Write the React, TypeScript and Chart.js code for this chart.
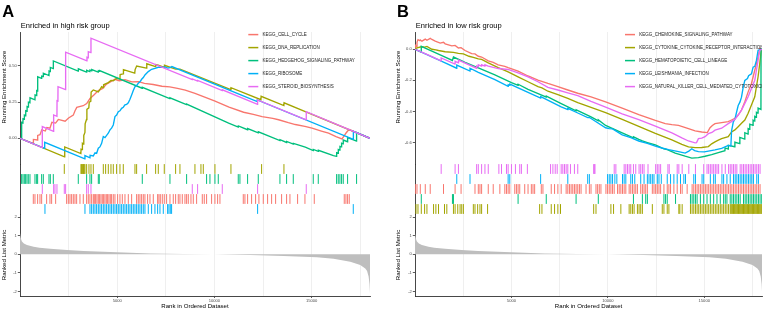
import React, { useEffect, useRef } from 'react';
import { Chart, registerables } from 'chart.js';

Chart.register(...registerables);

const FONT = '"Liberation Sans", Arial, Helvetica, sans-serif';
const COLORS = ['#F8766D', '#A3A500', '#00BF7D', '#00B0F6', '#E76BF3'];

// ---------- shared axis data ----------
const RANK_MAX = 18000;
const X_GRID_TICKS = [2500, 5000, 7500, 10000, 12500, 15000, 17500];
const X_LABELED_TICKS = [5000, 10000, 15000];
const METRIC_TICKS = [-2, -1, 0, 1, 2];

// ranked list metric (shared ranked gene list)
const METRIC_RANKS = [0, 20, 60, 100, 200, 358, 700, 1000, 1558, 2415, 3272, 4986, 6700, 8414, 9957, 11842, 13557, 15270, 16127, 16984, 17499, 17756, 17850, 17928, 17975, 18000];
const METRIC_VALUES = [1.15, 1.0, 0.8, 0.69, 0.58, 0.5, 0.41, 0.36, 0.3, 0.23, 0.18, 0.11, 0.05, 0.02, 0, -0.04, -0.09, -0.16, -0.24, -0.4, -0.58, -0.76, -0.9, -1.2, -1.6, -2.1];

// ---------- panel A : enriched in high risk group ----------
const A_SETS = ['KEGG_CELL_CYCLE', 'KEGG_DNA_REPLICATION', 'KEGG_HEDGEHOG_SIGNALING_PATHWAY', 'KEGG_RIBOSOME', 'KEGG_STEROID_BIOSYNTHESIS'];
const A_ES_TICKS = [0, 0.25, 0.5];
const A_ES_TICK_LABELS = ['0.00', '0.25', '0.50'];

const A_ES_CELL_CYCLE = [[0,0],[680,-0.036],[690,-0.008],[900,-0.012],[910,0.02],[1030,0.025],[1120,0.058],[1300,0.05],[1380,0.075],[1540,0.07],[1640,0.11],[1830,0.105],[1970,0.13],[2320,0.118],[2500,0.14],[2740,0.16],[2830,0.19],[2920,0.214],[3250,0.225],[3430,0.24],[3600,0.275],[3800,0.3],[4030,0.33],[4250,0.345],[4450,0.375],[4650,0.39],[4880,0.408],[5100,0.398],[5400,0.405],[5750,0.39],[6100,0.392],[6400,0.38],[6850,0.372],[7300,0.36],[7700,0.356],[8100,0.345],[8500,0.333],[9000,0.31],[9500,0.285],[10000,0.258],[10750,0.215],[11500,0.18],[12000,0.165],[12450,0.15],[13000,0.138],[13300,0.128],[13800,0.108],[14160,0.095],[14650,0.082],[15020,0.07],[15500,0.05],[15870,0.035],[16250,0.012],[16560,-0.005],[16680,0.018],[16760,0.035],[16850,0.05],[16930,0.06],[18000,0]];
const A_ES_DNA_REPLICATION = [[0,0],[2290,-0.128],[2300,-0.06],[3130,-0.106],[3140,-0.075],[3200,-0.078],[3210,-0.035],[3270,-0.04],[3280,0.02],[3340,0.04],[3350,0.1],[3420,0.13],[3440,0.2],[3540,0.21],[3560,0.25],[3640,0.255],[3660,0.32],[3770,0.334],[4030,0.32],[4200,0.357],[4280,0.35],[4300,0.37],[4540,0.385],[4680,0.4],[4800,0.398],[4970,0.415],[5140,0.41],[5150,0.44],[5300,0.445],[5320,0.475],[5900,0.45],[5920,0.475],[6000,0.5],[6500,0.485],[6520,0.515],[6970,0.495],[6980,0.51],[7110,0.505],[7420,0.49],[7430,0.505],[8000,0.478],[8230,0.478],[10840,0.336],[10850,0.35],[12390,0.267],[12400,0.29],[13570,0.226],[13580,0.245],[14672,0.184],[18000,0]];
const A_ES_HEDGEHOG = [[0,0],[80,-0.004],[85,0.11],[150,0.106],[155,0.135],[220,0.131],[225,0.16],[290,0.156],[295,0.19],[360,0.186],[365,0.22],[430,0.216],[435,0.25],[510,0.246],[515,0.28],[770,0.266],[775,0.3],[855,0.296],[860,0.33],[905,0.327],[910,0.425],[1110,0.414],[1115,0.43],[1195,0.426],[1200,0.45],[1490,0.434],[1495,0.465],[1555,0.462],[1560,0.49],[1710,0.482],[1715,0.535],[2990,0.465],[3000,0.48],[3420,0.457],[3430,0.47],[3590,0.461],[3600,0.472],[3680,0.467],[3690,0.475],[4020,0.457],[4030,0.466],[4080,0.463],[4090,0.468],[6280,0.346],[6290,0.352],[7700,0.274],[7712,0.28],[8560,0.233],[8569,0.236],[10730,0.104],[11225,0.077],[11230,0.085],[11700,0.059],[11710,0.067],[12254,0.037],[12260,0.045],[13368,-0.016],[13372,-0.01],[13711,-0.029],[13715,-0.022],[14054,-0.041],[14060,-0.035],[14672,-0.062],[15082,-0.085],[15086,-0.077],[15340,-0.091],[15345,-0.083],[16120,-0.12],[16280,-0.125],[16285,-0.1],[16365,-0.104],[16370,-0.078],[16450,-0.082],[16455,-0.056],[16535,-0.06],[16540,-0.034],[16620,-0.038],[16625,-0.012],[16845,-0.024],[16850,0.005],[17305,-0.02],[17310,0.039],[18000,0]];
const A_ES_RIBOSOME = [[0,0],[1265,-0.07],[1270,-0.028],[3335,-0.142],[3340,-0.12],[3598,-0.135],[3605,-0.118],[3770,-0.122],[3860,-0.1],[3941,-0.104],[4027,-0.069],[4110,-0.06],[4198,-0.035],[4284,0.012],[4370,0.005],[4455,0.02],[4540,0.035],[4627,0.058],[4710,0.07],[4798,0.092],[4884,0.15],[4970,0.16],[5055,0.184],[5141,0.19],[5227,0.207],[5312,0.215],[5398,0.231],[5484,0.235],[5570,0.245],[5655,0.27],[5741,0.3],[5826,0.33],[5912,0.357],[6000,0.365],[6083,0.38],[6170,0.39],[6255,0.408],[6341,0.42],[6426,0.438],[6598,0.461],[6769,0.477],[6940,0.484],[7112,0.491],[7280,0.49],[7455,0.494],[7600,0.485],[7712,0.488],[7810,0.496],[12200,0.254],[12205,0.265],[17140,-0.007],[17145,0.048],[18000,0]];
const A_ES_STEROID = [[0,0],[1140,-0.064],[1147,0.081],[1725,0.048],[1730,0.161],[1900,0.152],[1905,0.26],[1950,0.258],[1955,0.357],[2340,0.336],[2347,0.595],[3440,0.535],[3445,0.56],[3505,0.557],[3512,0.599],[3645,0.592],[3650,0.692],[8860,0.406],[8865,0.41],[9134,0.395],[9138,0.4],[10403,0.33],[10408,0.335],[12215,0.235],[12220,0.265],[14717,0.128],[14722,0.184],[18000,0]];

const A_HITS_CELL_CYCLE = [684,770,907,1027,1113,1370,1541,1627,1833,2398,2484,2570,2655,2741,2827,2913,3084,3255,3427,3512,3598,3684,3770,3821,3890,3958,4027,4095,4164,4232,4301,4369,4438,4507,4575,4644,4712,4798,4884,5021,5141,5261,5398,5570,5741,5998,6083,6169,6255,6341,6426,6563,6684,6855,7078,7146,7215,7318,7420,7540,7712,7883,8003,8140,8226,8346,8483,8569,8655,8792,8912,9083,9375,9477,9597,9854,10026,10163,10283,11483,11568,11705,11911,12117,12288,12511,12734,12940,13146,13454,13711,13883,14277,14654,15134,16676,16762,16848,16933];
const A_HITS_DNA_REPLICATION = [2278,3135,3170,3204,3240,3272,3300,3341,3427,3547,3650,3770,4284,4404,4541,4678,4798,4969,5141,5312,5912,5998,6512,6975,7112,7420,8003,8226,8997,9306,9426,10026,10849,12425,13574];
const A_HITS_HEDGEHOG = [84,153,222,290,359,427,513,770,856,907,1113,1199,1490,1559,1713,2998,3427,3598,3684,4027,4078,6289,7712,8569,9597,9769,10026,10197,11225,11311,11705,12254,13368,13711,14054,15082,15340,16282,16367,16453,16539,16625,16848,17310];
const A_HITS_RIBOSOME = [1284,3341,3598,3684,3770,3855,3941,4027,4112,4198,4284,4369,4455,4541,4627,4712,4798,4884,4969,5055,5141,5227,5312,5398,5484,5570,5655,5741,5826,5912,5998,6083,6169,6255,6341,6426,6598,6769,6940,7078,7198,7369,7592,7660,7729,7797,12220,17140];
const A_HITS_STEROID = [1147,1730,1798,1901,2278,2347,3427,3512,3650,8860,9134,10403,12220,14722];

// ---------- panel B : enriched in low risk group ----------
const B_SETS = ['KEGG_CHEMOKINE_SIGNALING_PATHWAY', 'KEGG_CYTOKINE_CYTOKINE_RECEPTOR_INTERACTION', 'KEGG_HEMATOPOIETIC_CELL_LINEAGE', 'KEGG_LEISHMANIA_INFECTION', 'KEGG_NATURAL_KILLER_CELL_MEDIATED_CYTOTOXICITY'];
const B_ES_TICKS = [-0.6, -0.4, -0.2, 0];
const B_ES_TICK_LABELS = ['-0.6', '-0.4', '-0.2', '0.0'];

const B_ES_CHEMOKINE = [[0,0],[17,0.025],[60,0.018],[103,0.045],[154,0.062],[250,0.055],[275,0.06],[361,0.052],[533,0.065],[620,0.058],[790,0.07],[876,0.063],[1048,0.052],[1306,0.04],[1478,0.045],[1564,0.035],[1908,0.022],[2080,0.025],[2252,0.008],[2389,0.01],[2595,-0.008],[2939,-0.028],[3111,-0.03],[3283,-0.045],[3455,-0.05],[3799,-0.075],[4057,-0.085],[4314,-0.1],[4658,-0.11],[4830,-0.118],[5346,-0.14],[5862,-0.172],[6377,-0.198],[6893,-0.22],[7409,-0.24],[7924,-0.262],[8440,-0.283],[9128,-0.306],[9885,-0.338],[10744,-0.378],[11604,-0.42],[12463,-0.458],[12979,-0.478],[13322,-0.485],[13666,-0.49],[14182,-0.51],[14526,-0.525],[14870,-0.532],[15160,-0.536],[15300,-0.505],[15420,-0.49],[15557,-0.478],[15901,-0.472],[16245,-0.466],[16417,-0.455],[16589,-0.444],[16760,-0.423],[16932,-0.391],[17104,-0.338],[17276,-0.274],[17448,-0.22],[17620,-0.135],[17706,-0.092],[17792,-0.049],[17878,0.004],[18000,0]];
const B_ES_CYTOKINE = [[0,0],[51,0.006],[154,0.01],[326,0.016],[498,0.014],[619,0.018],[876,0.0],[1083,-0.004],[1220,-0.008],[1564,-0.016],[1994,-0.02],[2252,-0.026],[2509,-0.03],[2800,-0.045],[3025,-0.052],[3283,-0.062],[3455,-0.065],[3799,-0.088],[4314,-0.118],[4830,-0.145],[5346,-0.177],[5862,-0.209],[6377,-0.241],[6583,-0.248],[6893,-0.27],[7409,-0.292],[7924,-0.316],[8440,-0.344],[9128,-0.374],[9885,-0.408],[10744,-0.451],[11604,-0.496],[12463,-0.541],[13322,-0.583],[13838,-0.612],[14182,-0.628],[14526,-0.633],[14870,-0.632],[15213,-0.626],[15385,-0.608],[15557,-0.596],[15729,-0.585],[15901,-0.575],[16245,-0.562],[16417,-0.532],[16589,-0.519],[16760,-0.498],[16932,-0.476],[17104,-0.455],[17276,-0.412],[17448,-0.359],[17620,-0.306],[17706,-0.241],[17792,-0.177],[17878,-0.092],[17964,0.0],[18000,0]];
const B_ES_HEMATOPOIETIC = [[0,0],[320,-0.018],[326,0.019],[876,-0.012],[1564,-0.05],[1940,-0.072],[1994,-0.05],[2600,-0.085],[3283,-0.12],[4143,-0.165],[5002,-0.215],[5346,-0.232],[5350,-0.225],[5862,-0.258],[6721,-0.303],[6807,-0.308],[6810,-0.302],[7581,-0.35],[8354,-0.396],[8360,-0.39],[9128,-0.435],[9506,-0.46],[9510,-0.454],[9885,-0.49],[10744,-0.538],[11328,-0.57],[11335,-0.563],[11604,-0.58],[11792,-0.59],[12050,-0.6],[12463,-0.615],[12909,-0.64],[13081,-0.645],[13494,-0.668],[14010,-0.688],[14354,-0.7],[14698,-0.697],[15042,-0.688],[15385,-0.678],[15729,-0.665],[16073,-0.652],[16080,-0.635],[16245,-0.642],[16250,-0.618],[16580,-0.627],[16589,-0.598],[16840,-0.607],[16846,-0.567],[17100,-0.578],[17104,-0.537],[17270,-0.546],[17276,-0.51],[17360,-0.515],[17362,-0.482],[17530,-0.49],[17534,-0.456],[17615,-0.462],[17620,-0.432],[17700,-0.437],[17706,-0.405],[17790,-0.41],[17792,-0.378],[17940,-0.387],[17945,0.0],[18000,0]];
const B_ES_LEISHMANIA = [[0,0],[533,-0.03],[1564,-0.088],[2160,-0.122],[2166,-0.102],[2850,-0.14],[2853,-0.122],[3283,-0.148],[4143,-0.196],[4830,-0.238],[4835,-0.228],[4916,-0.232],[4920,-0.224],[5862,-0.278],[6515,-0.314],[6520,-0.305],[7581,-0.37],[7924,-0.388],[7930,-0.38],[8440,-0.41],[8956,-0.44],[9042,-0.438],[9128,-0.445],[9885,-0.505],[10073,-0.51],[10245,-0.512],[10744,-0.55],[11190,-0.568],[11604,-0.59],[12050,-0.605],[12463,-0.623],[12800,-0.635],[13150,-0.645],[13666,-0.658],[14010,-0.668],[14200,-0.655],[14354,-0.64],[14500,-0.652],[14698,-0.658],[15000,-0.66],[15213,-0.655],[15557,-0.647],[15901,-0.637],[16245,-0.618],[16380,-0.622],[16417,-0.525],[16503,-0.47],[16600,-0.445],[16675,-0.405],[16760,-0.362],[16850,-0.34],[16932,-0.308],[17018,-0.245],[17104,-0.2],[17242,-0.188],[17300,-0.17],[17448,-0.158],[17534,-0.115],[17620,-0.11],[17706,-0.072],[17792,-0.006],[18000,0]];
const B_ES_NK = [[0,0],[705,-0.038],[1350,-0.074],[1358,-0.056],[2075,-0.095],[2080,-0.078],[2250,-0.087],[2256,-0.07],[3190,-0.122],[3197,-0.108],[3280,-0.112],[3283,-0.1],[3450,-0.108],[3455,-0.1],[3620,-0.108],[3627,-0.1],[3799,-0.108],[4314,-0.124],[4830,-0.13],[5346,-0.152],[5862,-0.177],[6377,-0.209],[6893,-0.245],[7409,-0.262],[7924,-0.28],[8440,-0.298],[9128,-0.335],[9885,-0.372],[10744,-0.415],[11604,-0.452],[12463,-0.495],[13322,-0.538],[13838,-0.57],[14182,-0.59],[14526,-0.602],[14600,-0.6],[14698,-0.575],[14870,-0.572],[15042,-0.562],[15213,-0.543],[15400,-0.535],[15557,-0.52],[15901,-0.508],[16245,-0.478],[16589,-0.451],[16760,-0.423],[16932,-0.391],[17104,-0.348],[17276,-0.306],[17448,-0.252],[17620,-0.199],[17706,-0.135],[17792,-0.071],[17878,-0.006],[18000,0]];

const B_HITS_CHEMOKINE = [17,103,275,533,790,1478,2080,2389,3111,3283,3369,3455,3799,4057,4400,4658,4744,4830,4916,5174,5260,5346,5432,5690,5862,6033,6119,6205,6549,6635,7065,7237,7409,7581,7838,7924,8010,8096,8182,8268,8354,8440,8526,8612,8870,9042,9128,9386,9471,9557,9643,9901,9987,10073,10159,10245,10331,10503,10589,10675,10761,10847,10933,11105,11190,11276,11362,11448,11534,11706,11792,11878,11964,12050,12308,12394,12480,12566,12652,12738,12909,13081,13167,13253,13425,13597,13769,13855,14113,14371,14457,14543,14629,14714,14800,14886,14972,15058,15144,15230,15316,15402,15488,15574,15660,15746,15832,15918,16004,16090,16176,16262,16347,16433,16519,16605,16691,16777,16863,16949,17035,17121,17207,17293,17379,17465,17551,17637,17723,17809,17895];
const B_HITS_CYTOKINE = [51,154,326,498,619,962,1083,1220,1530,1650,1994,2080,2217,2338,2424,2509,3025,3111,3249,3369,3455,3764,6463,6583,7065,7237,7409,7546,9266,9386,10159,10297,10675,11105,11190,11276,11362,11534,11620,11706,11792,12308,12823,12909,13081,13167,13683,13735,13855,14285,14371,14457,14543,14629,14714,14800,14886,14972,15058,15144,15230,15316,15402,15488,15574,15660,15746,15832,15918,16004,16090,16176,16262,16347,16390,16433,16476,16519,16562,16605,16648,16691,16734,16777,16820,16863,16906,16949,16992,17035,17078,17121,17164,17207,17250,17293,17336,17379,17422,17465,17508,17551,17594,17637,17680,17723,17766,17809,17852,17895,17938,17980];
const B_HITS_HEMATOPOIETIC = [326,1942,1994,5346,6807,8354,9506,11328,11792,11964,12050,12909,12995,13081,13511,14285,14371,14457,14543,14629,14800,14972,15144,15316,15488,15660,15832,16004,16090,16176,16347,16433,16519,16605,16691,16777,16863,17035,17121,17207,17293,17379,17465,17551,17637,17723,17809,17895,17980];
const B_HITS_LEISHMANIA = [2166,2853,4830,4916,6515,7924,8956,9042,9987,10073,10159,10245,10365,10468,10761,10847,10933,11190,11276,11397,11706,11878,12050,12136,12222,12308,12394,12566,12652,12772,13081,13253,13425,13597,13769,13941,14027,14457,14543,14886,14972,15316,15488,15574,15918,16004,16176,16347,16519,16605,16691,16777,16863,16949,17035,17121,17207,17293,17379,17465,17551,17723,17809];
const B_HITS_NK = [1358,2080,2252,3197,3283,3455,3627,3799,4349,4486,4744,4830,5002,5208,5432,5518,5827,7030,7151,7271,7374,7581,7666,7752,7838,7924,8062,8268,8440,9266,9300,9334,10331,10417,10847,10933,11019,11105,11190,11328,11448,11620,11706,11792,11878,12084,12480,12566,12652,12738,13116,13184,13597,13683,13855,14199,14543,14972,15144,15230,15316,15402,15488,15574,15660,15746,15918,16090,16262,16347,16433,16519,16605,16691,16863,16949,17035,17121,17207,17293,17379,17465,17551,17637,17723,17809,17895];

// ---------- panel configuration (layout / style) ----------
type Pt = number[];
interface PanelSpec {
  letter: string;
  title: string;
  sets: string[];
  es: Pt[][];
  hits: number[][];
  rugRows: number[];
  esMin: number;
  esMax: number;
  esTicks: number[];
  esTickLabels: string[];
  axisWidth: number;
  padRight: number;
  letterX: number;
  axisTitleX: number;
  legendX: number;
}

const PANEL_A: PanelSpec = {
  letter: 'A',
  title: 'Enriched in high risk group',
  sets: A_SETS,
  es: [A_ES_CELL_CYCLE, A_ES_DNA_REPLICATION, A_ES_HEDGEHOG, A_ES_RIBOSOME, A_ES_STEROID],
  hits: [A_HITS_CELL_CYCLE, A_HITS_DNA_REPLICATION, A_HITS_HEDGEHOG, A_HITS_RIBOSOME, A_HITS_STEROID],
  rugRows: [1, 4, 3, 0, 2],
  esMin: -0.178,
  esMax: 0.735,
  esTicks: A_ES_TICKS,
  esTickLabels: A_ES_TICK_LABELS,
  axisWidth: 20,
  padRight: 14,
  letterX: 2.3,
  axisTitleX: 4.6,
  legendX: 248.3,
};

const PANEL_B: PanelSpec = {
  letter: 'B',
  title: 'Enriched in low risk group',
  sets: B_SETS,
  es: [B_ES_CHEMOKINE, B_ES_CYTOKINE, B_ES_HEMATOPOIETIC, B_ES_LEISHMANIA, B_ES_NK],
  hits: [B_HITS_CHEMOKINE, B_HITS_CYTOKINE, B_HITS_HEMATOPOIETIC, B_HITS_LEISHMANIA, B_HITS_NK],
  rugRows: [2, 0, 1, 3, 4],
  esMin: -0.738,
  esMax: 0.111,
  esTicks: B_ES_TICKS,
  esTickLabels: B_ES_TICK_LABELS,
  axisWidth: 31,
  padRight: 4,
  letterX: 13,
  axisTitleX: 14.5,
  legendX: 241,
};

const AXIS_COLOR = '#333333';
const TICK_TEXT = '#4D4D4D';

function rotText(ctx: CanvasRenderingContext2D, text: string, x: number, y: number) {
  ctx.save();
  ctx.translate(x, y);
  ctx.rotate(-Math.PI / 2);
  ctx.fillText(text, 0, 0);
  ctx.restore();
}

function makeDecor(p: PanelSpec) {
  return {
    id: 'decor' + p.letter,
    afterDraw(chart: any) {
      const ctx: CanvasRenderingContext2D = chart.ctx;
      const area = chart.chartArea;
      ctx.save();
      ctx.fillStyle = '#000';
      ctx.textAlign = 'left';
      ctx.textBaseline = 'alphabetic';
      ctx.font = `bold 16.5px ${FONT}`;
      ctx.fillText(p.letter, p.letterX, 16.8);
      ctx.font = `7.5px ${FONT}`;
      ctx.fillText(p.title, area.left + 0.8, 28.3);

      ctx.font = `6.1px ${FONT}`;
      ctx.textAlign = 'center';
      ctx.textBaseline = 'middle';
      rotText(ctx, 'Running Enrichment Score', p.axisTitleX, 87);
      const yM = chart.scales.yM;
      rotText(ctx, 'Ranked List Metric', p.axisTitleX, (yM.top + yM.bottom) / 2);
      ctx.fillText('Rank in Ordered Dataset', (area.left + area.right) / 2, 306.7);

      // legend inside the ES panel
      ctx.beginPath();
      ctx.rect(area.left, 0, area.right - area.left, area.bottom);
      ctx.clip();
      ctx.font = `4.5px ${FONT}`;
      ctx.textAlign = 'left';
      ctx.textBaseline = 'middle';
      p.sets.forEach((name, i) => {
        const y = 34.6 + i * 13;
        ctx.strokeStyle = COLORS[i];
        ctx.lineWidth = 1.5;
        ctx.beginPath();
        ctx.moveTo(p.legendX, y);
        ctx.lineTo(p.legendX + 10, y);
        ctx.stroke();
        ctx.fillStyle = '#1A1A1A';
        ctx.fillText(name, p.legendX + 14.2, y);
      });
      ctx.restore();
    },
  };
}

function buildChart(canvas: HTMLCanvasElement, p: PanelSpec) {
  const datasets: any[] = [];
  p.es.forEach((pts, i) => {
    datasets.push({
      type: 'line',
      label: p.sets[i],
      data: pts.map((d) => ({ x: d[0], y: d[1] })),
      xAxisID: 'x',
      yAxisID: 'yE',
      borderColor: COLORS[i],
      borderWidth: 1.35,
      pointRadius: 0,
      tension: 0,
      fill: false,
      order: 10 - i,
    });
  });
  p.hits.forEach((h, i) => {
    datasets.push({
      type: 'scatter',
      label: p.sets[i] + ' hits',
      data: h.map((r) => ({ x: r, y: p.rugRows[i] + 0.5 })),
      xAxisID: 'x',
      yAxisID: 'yR',
      showLine: false,
      pointStyle: 'line',
      pointRadius: 4.9,
      pointRotation: 90,
      pointBorderWidth: 1,
      pointBorderColor: COLORS[i],
      borderColor: COLORS[i],
      backgroundColor: COLORS[i],
      order: 20,
    });
  });
  datasets.push({
    type: 'line',
    label: 'Ranked list metric',
    data: METRIC_RANKS.map((r, k) => ({ x: r, y: METRIC_VALUES[k] })),
    xAxisID: 'x',
    yAxisID: 'yM',
    borderWidth: 0,
    borderColor: 'rgba(0,0,0,0)',
    backgroundColor: '#BEBEBE',
    pointRadius: 0,
    tension: 0,
    fill: 'origin',
    order: 30,
  });

  const tickFont = { size: 4.1, family: FONT };
  const fixWidth = (s: any) => {
    s.width = p.axisWidth;
  };

  return new Chart(canvas, {
    type: 'line',
    data: { datasets },
    plugins: [makeDecor(p)],
    options: {
      responsive: false,
      animation: false,
      devicePixelRatio: 1,
      events: [],
      layout: { padding: { top: 32, right: p.padRight, bottom: 0, left: 0 } },
      plugins: {
        legend: { display: false },
        tooltip: { enabled: false },
        title: { display: false },
      },
      scales: {
        x: {
          type: 'linear',
          position: 'bottom',
          min: 0,
          max: RANK_MAX,
          afterBuildTicks: (s: any) => {
            s.ticks = X_GRID_TICKS.map((v) => ({ value: v }));
          },
          afterFit: (s: any) => {
            s.height = 15;
          },
          ticks: {
            autoSkip: false,
            maxRotation: 0,
            minRotation: 0,
            padding: 0.3,
            color: TICK_TEXT,
            font: tickFont,
            callback: (v: any) => (X_LABELED_TICKS.includes(v) ? String(v) : ''),
          },
          grid: {
            color: '#EBEBEB',
            lineWidth: 0.8,
            tickLength: 2,
            tickWidth: 0.8,
            tickColor: (c: any) => (c.tick && X_LABELED_TICKS.includes(c.tick.value) ? AXIS_COLOR : 'rgba(0,0,0,0)'),
          },
          border: { display: true, color: AXIS_COLOR, width: 0.9 },
        },
        yM: {
          type: 'linear',
          position: 'left',
          stack: 'panel',
          stackWeight: 82,
          min: -2.25,
          max: 2.18,
          afterBuildTicks: (s: any) => {
            s.ticks = METRIC_TICKS.map((v) => ({ value: v }));
          },
          afterFit: fixWidth,
          ticks: { padding: 1, color: TICK_TEXT, font: tickFont, callback: (v: any) => String(v) },
          grid: { drawOnChartArea: false, tickLength: 2.2, tickColor: AXIS_COLOR, tickWidth: 0.8 },
          border: { display: true, color: AXIS_COLOR, width: 0.9 },
        },
        yR: {
          type: 'linear',
          position: 'left',
          stack: 'panel',
          stackWeight: 50,
          min: 0,
          max: 5,
          afterFit: fixWidth,
          ticks: { display: false },
          grid: { display: false },
          border: { display: true, color: AXIS_COLOR, width: 0.9 },
        },
        yE: {
          type: 'linear',
          position: 'left',
          stack: 'panel',
          stackWeight: 132,
          min: p.esMin,
          max: p.esMax,
          afterBuildTicks: (s: any) => {
            s.ticks = p.esTicks.map((v) => ({ value: v }));
          },
          afterFit: fixWidth,
          ticks: {
            padding: 1,
            color: TICK_TEXT,
            font: tickFont,
            callback: (v: any) => {
              const k = p.esTicks.indexOf(v);
              return k >= 0 ? p.esTickLabels[k] : '';
            },
          },
          grid: { drawOnChartArea: false, tickLength: 2.2, tickColor: AXIS_COLOR, tickWidth: 0.8 },
          border: { display: true, color: AXIS_COLOR, width: 0.9 },
        },
      },
    } as any,
  });
}

function Panel({ spec, left }: { spec: PanelSpec; left: number }) {
  const ref = useRef<HTMLCanvasElement>(null);
  useEffect(() => {
    if (!ref.current) return;
    const chart = buildChart(ref.current, spec);
    return () => chart.destroy();
  }, [spec]);
  return (
    <canvas
      ref={ref}
      width={384}
      height={311}
      style={{ position: 'absolute', left, top: 0, width: 384, height: 311 }}
    />
  );
}

export default function App() {
  return (
    <div style={{ position: 'absolute', left: 0, top: 0, width: 768, height: 311, background: '#ffffff', overflow: 'hidden' }}>
      <Panel spec={PANEL_A} left={0} />
      <Panel spec={PANEL_B} left={384} />
    </div>
  );
}
